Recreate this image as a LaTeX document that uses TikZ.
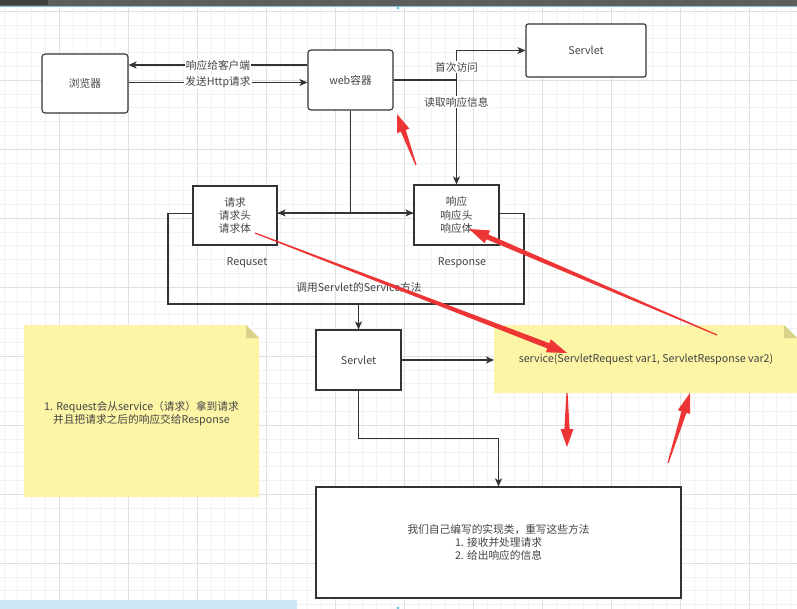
\documentclass[tikz,border=0pt]{standalone}
\usepackage{fontspec}
\setmainfont{Noto Sans CJK SC}
\usetikzlibrary{arrows.meta,calc}
\definecolor{ink}{HTML}{333333}
\definecolor{inktext}{HTML}{444444}
\definecolor{notefill}{HTML}{FCF5A6}
\definecolor{notefold}{HTML}{D9D28A}
\definecolor{markred}{HTML}{EE3535}
\definecolor{gridminor}{HTML}{F2F2F2}
\definecolor{gridmajor}{HTML}{E0E0E0}
\definecolor{barcol}{HTML}{5E5E5E}
\definecolor{skyline}{HTML}{7CC6E4}

\tikzset{
  box/.style={draw=ink,line width=1.1pt,fill=white,text=inktext,align=center,inner sep=0pt},
  rbox/.style={box,rounded corners=3pt},
  link/.style={draw=ink,line width=1.1pt,-{Stealth[length=8pt,width=7pt,inset=2pt]}},
  lbl/.style={fill=white,inner sep=1pt,text=inktext},
  txt/.style={text=inktext,align=center,inner sep=0pt}
}

\newcommand{\notepaper}[4]{%
  \fill[notefill] (#1,#4) |- ({#3-13},#2) -- (#3,{#2+13}) |- cycle;
  \fill[notefold] ({#3-13},#2) -- ({#3-13},{#2+13}) -- (#3,{#2+13}) -- cycle;}

\newcommand{\redmark}[5]{%
  \coordinate (rmA) at #1;
  \coordinate (rmB) at #2;
  \coordinate (rmH) at ($(rmB)!#5!(rmA)$);
  \fill[markred] ($(rmA)!0.6pt!90:(rmB)$) -- ($(rmH)!#3!90:(rmB)$) -- ($(rmH)!#4!90:(rmB)$)
    -- (rmB) -- ($(rmH)!#4!-90:(rmB)$) -- ($(rmH)!#3!-90:(rmB)$) -- ($(rmA)!0.6pt!-90:(rmB)$) -- cycle;}

\begin{document}
\begin{tikzpicture}[x=1pt,y=-1pt,font=\fontsize{10.7}{13.3}\selectfont]
\useasboundingbox (0,0) rectangle (797,609);
\fill[white] (0,0) rectangle (797,609);
\foreach \gx in {3.8,17.6,...,797} \draw[gridminor,line width=0.5pt] (\gx,6) -- (\gx,609);
\foreach \gy in {11,24.8,...,609} \draw[gridminor,line width=0.5pt] (0,\gy) -- (797,\gy);
\foreach \gx in {59,128,...,797} \draw[gridmajor,line width=0.5pt] (\gx,6) -- (\gx,609);
\foreach \gy in {11,80,...,609} \draw[gridmajor,line width=0.5pt] (0,\gy) -- (797,\gy);
\fill[barcol] (0,0) rectangle (797,6);
\fill[black!75] (0,0) rectangle (48,5);
\draw[skyline,line width=1pt] (0,6.5) -- (797,6.5);
\fill[skyline] (398,8) circle (1.6);
\fill[skyline!40] (0,600) rectangle (297,609);
\fill[skyline] (398,608) circle (1.6);

\notepaper{24}{325}{259}{497}
\notepaper{494}{325}{797}{393}

\node[rbox,minimum width=86,minimum height=59] (browser) at (85,83.5) {浏览器};
\node[rbox,minimum width=85,minimum height=60] (web) at (350.5,80) {web容器};
\node[rbox,minimum width=120,minimum height=53,rounded corners=2pt] (srvtop) at (586,50.5) {Servlet};
\node[box,minimum width=356,minimum height=90.5,fill=none] (frame) at (346,258.75) {};
\node[box,minimum width=84,minimum height=59] (req) at (235,215.5) {请求\\请求头\\请求体};
\node[box,minimum width=85,minimum height=60] (resp) at (456.5,215) {响应\\响应头\\响应体};
\node[txt] (reqname) at (247,263) {Requset};
\node[txt] (respname) at (462,263) {Response};
\node[txt] (call) at (359,287) {调用Servlet的Service方法};
\node[box,minimum width=85,minimum height=60] (srv) at (358.5,360) {Servlet};
\node[txt] (svc) at (646,359) {service(ServletRequest var1, ServletResponse var2)};
\node[txt] (memo) at (141.5,413.5) {1. Request会从service（请求）拿到请求\\并且把请求之后的响应交给Response};
\node[box,minimum width=365,minimum height=111] (impl) at (498.5,542.5) {我们自己编写的实现类，重写这些方法\\1. 接收并处理请求\\2. 给出响应的信息};

\coordinate (back) at ([yshift=15pt]web.west);
\coordinate (send) at ([yshift=1pt]browser.east);
\coordinate (fork) at (web.east -| resp.north);
\coordinate (split) at (web.south |- frame.north);
\coordinate (svcin) at (494,360);

\draw[link] (back) -- (back -| browser.east) node[lbl,midway]{响应给客户端};
\draw[link] (send) -- (send -| web.west) node[lbl,midway]{发送Http请求};
\draw[link] (web.east) -- (fork) |- (srvtop.west) node[lbl,pos=0.22]{首次访问};
\draw[link] (fork) -- (resp.north) node[lbl,pos=0.21]{读取响应信息};
\draw[draw=ink,line width=1.1pt] (web.south) -- (split);
\draw[link] (split) -- (split -| req.east);
\draw[link] (split) -- (split -| resp.west);
\draw[link] (srv.north |- frame.south) -- (srv.north);
\draw[link] (srv.east) -- (srv.east -| svcin);
\draw[link] (srv.south) -- ++(0,48) -| (impl.north);

\redmark{(255,233)}{(567,353)}{2.8pt}{7pt}{20pt}
\redmark{(717,335)}{(469,229)}{2.6pt}{7pt}{20pt}
\redmark{(416,165)}{(397,114)}{2.6pt}{6.5pt}{18pt}
\redmark{(567,393)}{(567,447)}{2.6pt}{6.5pt}{18pt}
\redmark{(668,463)}{(690,393)}{2.6pt}{6.5pt}{20pt}
\end{tikzpicture}
\end{document}
